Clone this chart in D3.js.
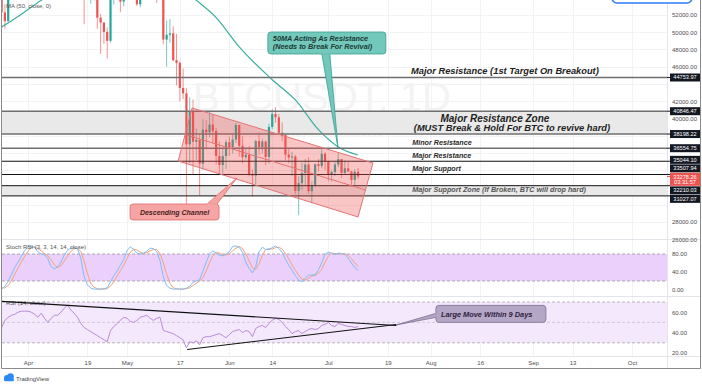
<!DOCTYPE html>
<html>
<head>
<meta charset="utf-8">
<script src="https://cdn.jsdelivr.net/npm/d3@7"></script>
<style>
  body { margin: 0; background: #fff; }
  svg { display: block; font-family: "Liberation Sans", Arial, sans-serif; }
</style>
</head>
<body>
<svg id="chart" width="702" height="384"></svg>
<script>
// ---- data (BTCUSDT daily) ----
var firstDay = "2021-03-24";

var open = [54342,52303,51293,55025,55817,55777,57635,58746,58740,58720,58981,57094,58202,59129,57992,56000,58077,58143,59770,60007,
  59861,63575,62959,63159,61334,60006,56150,55633,56425,53787,51690,51125,50047,49004,54021,55034,54824,53555,57750,57828,
  56610,57213,53241,57473,56428,57380,58928,58280,55859,56704,49150,49716,49880,46761,46450,43538,42909,37002,40782,37304,
  37536,34770,38705,38402,39294,38556,35663,34605,35641,37253,36694,37568,39246,36829,35513,35796,33552,33380,37388,36677,
  37331,35546,39020,40516,40143,38349,38092,35820,35483,35601,31614,32510,33676,34663,31576,32283,34700,34494,35911,35045,
  33502,33786,34668,35288,33690,34220,33863,32875,33815];
var high = [57200,53230,55073,56700,56559,58400,59368,59800,59490,60200,59791,58500,59251,59495,58655,58153,58894,61200,60800,61300,
  63777,64854,63800,63520,62500,60499,57526,57000,56757,55521,52130,51166,50567,54359,55460,56428,55200,58000,58458,57937,
  58981,57213,57911,58360,58650,59500,59300,59500,56900,58000,51367,51520,50700,49800,46643,45800,43546,42451,42200,38856,
  38270,39920,39791,40841,40411,38900,37338,36488,37534,37894,38225,39476,39289,37925,36480,36800,34068,37534,38400,37690,
  37451,39380,41064,41330,40528,39559,38202,36457,36139,35750,33298,34881,35298,35500,32730,34749,35297,36600,36100,35057,
  33977,34945,35967,35293,35118,35059,33929,34100,34262];
var low = [51700,50427,51226,53950,54691,54900,57000,56769,57935,58428,56000,56478,56817,57413,55473,55700,57691,57902,59239,59360,
  59791,61300,62020,60000,59580,50931,54221,53329,53695,50400,47500,48657,46930,48796,53222,53813,52330,53013,57052,56044,
  56435,53046,52900,55200,55250,56975,56235,53400,54370,48600,46000,48805,46650,43825,42001,42250,30000,34850,33488,35200,
  31111,34031,36419,37800,37134,34684,33632,33379,34153,35666,35920,37170,35567,34800,35258,33300,31000,32396,35782,35936,
  34600,34757,38730,39506,38116,37365,35129,34803,33336,31251,28805,31683,32286,31275,30151,32046,33862,34225,34017,32711,
  32699,33316,34357,33125,33532,33777,32077,32261,33004];
var close = [52303,51293,55025,55817,55777,57635,58746,58740,58720,58981,57094,58202,59129,57992,56000,58077,58143,59770,60007,59861,
  63575,62959,63159,61334,60006,56150,55633,56425,53787,51690,51125,50047,49004,54021,55034,54824,53555,57750,57828,56610,
  57213,53241,57473,56428,57380,58928,58280,55859,56704,49150,49716,49880,46761,46450,43538,42909,37002,40782,37304,37536,
  34770,38705,38402,39294,38556,35663,34605,35641,37253,36693,37569,39246,36829,35513,35796,33552,33380,37388,36675,37331,
  35546,39020,40516,40144,38349,38092,35819,35483,35600,31608,32509,33678,34663,31584,32283,34700,34494,35911,35045,33504,
  33786,34669,35287,33690,34220,33862,32875,33815,33278];

var maDays   = ["2021-03-24","2021-03-30","2021-04-05","2021-04-15","2021-05-01","2021-05-12","2021-05-22","2021-05-28",
                "2021-06-04","2021-06-14","2021-06-21","2021-06-28","2021-07-04","2021-07-10"];
var maValues = [50600, 52100, 53700, 56000, 57000, 56500, 53700, 51700, 48300, 44500, 42150, 38700, 36700, 35770];

var stochK = [2,8,20,35,50,62,75,88,96,97, 95,85,80,79,70,52,47,52,62,78, 88,93,94,92,70,30,12,4,2,2,
  2,3,5,18,32,42,55,68,88,96, 90,82,80,82,86,93,92,85,65,30, 10,4,2,2,2,2,4,8,17,20,
  23,42,62,80,87,82,77,76,80,85, 97,98,95,84,62,48,38,52,85,95, 90,90,94,98,92,84,68,55,44,32,
  22,18,26,33,33,34,45,60,80,84, 82,78,82,81,79,71,60,50,44];
var stochD = [5,5,10,21,35,49,62,75,86,94, 96,92,87,81,76,67,56,50,54,64, 76,86,92,93,85,64,37,15,6,3,
  2,2,3,9,18,31,43,55,70,84, 91,89,84,81,83,87,90,90,81,60, 35,15,5,3,2,2,3,5,10,15,
  20,28,42,61,76,83,82,78,78,80, 87,93,97,92,80,65,49,46,58,77, 90,92,91,94,95,91,81,69,56,44,
  33,24,22,26,31,33,37,46,62,75, 82,81,81,80,81,77,70,60,52];
var rsi = [45,52,55,57,58,60,61,61,61,60, 58,55,59,54,50,54,57,57,60,64, 67,62,59,55,49,45,43,41,39,37,
  35,33,31,42,46,49,52,55,54,51, 50,52,55,56,57,54,52,54,55,42, 41,40,39,37,35,33,25,31,30,32,
  28,35,36,36,37,38,39,37,35,38, 41,42,43,40,42,41,36,44,46,47, 45,49,52,54,53,50,46,43,39,41,
  42,39,41,43,44,43,44,47,48,50, 47,46,49,48,47,46,46,45,46];

var timeTicks  = ["2021-04-01","2021-04-19","2021-05-01","2021-05-17","2021-06-01","2021-06-14","2021-07-01",
                  "2021-07-19","2021-08-01","2021-08-16","2021-09-01","2021-09-13","2021-10-01"];
var timeLabels = ["Apr","19","May","17","Jun","14","Jul","19","Aug","16","Sep","13","Oct"];
var priceTicks = [52000,50000,48000,46000,44000,42000,40000,38000,36000,34000,32000,30000,28000,26000];
var stochTicks = [80, 40, 0];
var rsiTicks   = [60, 40, 20];

var grayLevels  = [44753.97, 40846.47, 38198.22, 36554.75];
var blackLevels = [35044.10, 33507.94, 32210.03, 31027.07];
var zones = [[38198.22, 40846.47], [31027.07, 32210.03]];
var lastPrice = 33278.26, countdown = "03:31:57";

// channel corners (date, price)
var channel = [["2021-05-20T17:00:00Z", 41217], ["2021-07-14T12:00:00Z", 34841],
               ["2021-07-10T00:00:00Z", 28580], ["2021-05-16T12:00:00Z", 35072]];
var rsiTop    = [["2021-03-24T02:00:00Z", 70.6], ["2021-07-21T14:00:00Z", 47]];
var rsiBottom = [["2021-05-19T05:00:00Z", 23.5], ["2021-07-21T14:00:00Z", 48]];

// ---- layout ----
var svg = d3.select("#chart");
var left = 2, right = 667;
var mainTop = 0, mainBottom = 239, stochTop = 240, stochBottom = 296, rsiTop0 = 297, rsiBottom0 = 356;

var parseDay = d3.utcParse("%Y-%m-%d");
var t = function(s) { return s.length > 10 ? d3.isoParse(s) : parseDay(s); };

var x = d3.scaleUtc().domain([t("2021-03-24"), t("2021-10-01")]).range([1.6, 632]);
var y = d3.scaleLinear().domain([28000, 52000]).range([222, 15]);
var yS = d3.scaleLinear().domain([0, 100]).range([290, 245]);
var yR = d3.scaleLinear().domain([20, 70]).range([353, 302]);

var days = d3.utcDay.range(t(firstDay), d3.utcDay.offset(t(firstDay), close.length));
var candles = days.map(function(d, i) {
  return { date: d, open: open[i], high: high[i], low: low[i], close: close[i] };
});

var defs = svg.append("defs");
function clip(id, y0, y1) {
  defs.append("clipPath").attr("id", id).append("rect")
    .attr("x", left).attr("y", y0).attr("width", right - left).attr("height", y1 - y0);
}
clip("cMain", mainTop, mainBottom);
clip("cStoch", stochTop, stochBottom);
clip("cRsi", rsiTop0, rsiBottom0);

svg.append("rect").attr("width", 702).attr("height", 384).attr("fill", "#fff");

// grid
var grid = svg.append("g").attr("stroke", "#f1f3f6").attr("stroke-width", 1);
timeTicks.forEach(function(d) {
  var xx = Math.round(x(t(d))) + 0.5;
  grid.append("line").attr("x1", xx).attr("x2", xx).attr("y1", 0).attr("y2", rsiBottom0);
});
priceTicks.forEach(function(p) {
  var yy = Math.round(y(p)) + 0.5;
  grid.append("line").attr("x1", left).attr("x2", right).attr("y1", yy).attr("y2", yy);
});

// ---- main pane ----
var main = svg.append("g").attr("clip-path", "url(#cMain)");

main.append("text").attr("x", 322).attr("y", 111).attr("text-anchor", "middle")
  .attr("font-size", 40).attr("fill", "#f3f3f3").text("BTCUSDT, 1D");
main.append("text").attr("x", 322).attr("y", 137).attr("text-anchor", "middle")
  .attr("font-size", 15).attr("fill", "#f4f4f4").text("Bitcoin / TetherUS");

main.selectAll(".zone").data(zones).enter().append("rect")
  .attr("class", "zone")
  .attr("x", left).attr("width", right - left)
  .attr("y", function(d) { return y(d[1]); })
  .attr("height", function(d) { return y(d[0]) - y(d[1]); })
  .attr("fill", "#e9e9e9");

var isUp = function(d) { return d.close >= d.open; };
var upCol = "#26a69a", downCol = "#ef5350";
var bw = 2.2;

var bars = main.selectAll(".bar").data(candles).enter().append("g").attr("class", "bar")
  .attr("fill", function(d) { return isUp(d) ? upCol : downCol; })
  .attr("stroke", function(d) { return isUp(d) ? upCol : downCol; });
bars.append("line")
  .attr("x1", function(d) { return x(d.date); }).attr("x2", function(d) { return x(d.date); })
  .attr("y1", function(d) { return y(d.high); }).attr("y2", function(d) { return y(d.low); })
  .attr("stroke-width", 0.9).attr("stroke-opacity", 0.7);
bars.append("rect")
  .attr("stroke", "none")
  .attr("x", function(d) { return x(d.date) - bw / 2; })
  .attr("width", bw)
  .attr("y", function(d) { return y(Math.max(d.open, d.close)); })
  .attr("height", function(d) { return Math.max(0.8, Math.abs(y(d.open) - y(d.close))); });

var maLine = d3.line().curve(d3.curveMonotoneX)
  .x(function(d) { return x(t(d[0])); }).y(function(d) { return y(d[1]); });
main.append("path").datum(maDays.map(function(d, i) { return [d, maValues[i]]; }))
  .attr("d", maLine).attr("fill", "none").attr("stroke", "#3bae9f").attr("stroke-width", 1.2);

// level lines
grayLevels.forEach(function(p) {
  main.append("line").attr("x1", left).attr("x2", right).attr("y1", y(p)).attr("y2", y(p))
    .attr("stroke", "#6f6f6f").attr("stroke-width", 1.4);
});
blackLevels.forEach(function(p) {
  main.append("line").attr("x1", left).attr("x2", right).attr("y1", y(p)).attr("y2", y(p))
    .attr("stroke", "#111").attr("stroke-width", 1);
});

// descending channel
var chPts = channel.map(function(c) { return [x(t(c[0])), y(c[1])]; });
main.append("path").attr("d", "M" + chPts.join("L") + "Z")
  .attr("fill", "rgba(239,83,80,0.33)").attr("stroke", "#e57373").attr("stroke-width", 1);
var midA = [(chPts[0][0] + chPts[3][0]) / 2, (chPts[0][1] + chPts[3][1]) / 2];
var midB = [(chPts[1][0] + chPts[2][0]) / 2, (chPts[1][1] + chPts[2][1]) / 2];
main.append("line").attr("x1", midA[0]).attr("y1", midA[1]).attr("x2", midB[0]).attr("y2", midB[1])
  .attr("stroke", "#e57373").attr("stroke-width", 1);

// level texts
var txt = main.append("g").attr("font-weight", "bold").attr("font-style", "italic");
var cx = x(t("2021-08-23T12:00:00Z")), lx = x(t("2021-07-26T10:00:00Z"));
txt.append("text").attr("x", cx).attr("y", y(44753.97) - 3).attr("text-anchor", "middle")
  .attr("font-size", 9.3).attr("fill", "#222").text("Major Resistance (1st Target On Breakout)");
txt.append("text").attr("x", cx - 10).attr("y", y(40846.47) + 10.5).attr("text-anchor", "middle")
  .attr("font-size", 10).attr("fill", "#222").text("Major Resistance Zone");
txt.append("text").attr("x", cx + 7).attr("y", y(40846.47) + 20).attr("text-anchor", "middle")
  .attr("font-size", 9.3).attr("fill", "#222").text("(MUST Break & Hold For BTC to revive hard)");
txt.append("text").attr("x", lx).attr("y", y(36554.75) - 3).attr("font-size", 7.2).attr("fill", "#2a2a2a").text("Minor Resistance");
txt.append("text").attr("x", lx).attr("y", y(35044.10) - 3).attr("font-size", 7.2).attr("fill", "#2a2a2a").text("Major Resistance");
txt.append("text").attr("x", lx).attr("y", y(33507.94) - 3.5).attr("font-size", 7.2).attr("fill", "#2a2a2a").text("Major Support");
txt.append("text").attr("x", lx).attr("y", y(32210.03) + 6.5).attr("font-size", 7.2).attr("fill", "#555").text("Major Support Zone (If Broken, BTC will drop hard)");

main.append("text").attr("x", 6).attr("y", 8).attr("font-size", 6).attr("fill", "#555").text("MA (50, close, 0)");

// callouts
function callout(g, o) {
  var bx = o.bx, by = o.by;
  g.append("path").attr("d", "M" + o.base[0].join(",") + "L" + o.tip.join(",") + "L" + o.base[1].join(",") + "Z")
    .attr("fill", o.fill).attr("stroke", o.stroke).attr("stroke-width", 0.8);
  g.append("rect").attr("x", bx).attr("y", by).attr("width", o.w).attr("height", o.h).attr("rx", 3)
    .attr("fill", o.fill).attr("stroke", o.stroke).attr("stroke-width", 0.8);
  g.append("path").attr("d", "M" + o.base[0].join(",") + "L" + o.base[1].join(","))
    .attr("stroke", o.fill).attr("stroke-width", 1.6);
  o.lines.forEach(function(s, i) {
    g.append("text").attr("x", o.anchor === "middle" ? bx + o.w / 2 : bx + 5)
      .attr("y", by + o.pad + i * 7.8).attr("text-anchor", o.anchor || "start")
      .attr("font-size", o.fs).attr("font-weight", "bold").attr("font-style", "italic")
      .attr("fill", o.color).text(s);
  });
}

var maBoxX = x(t("2021-06-12T16:00:00Z")), maBoxY = y(50030);
callout(main, {
  bx: maBoxX, by: maBoxY, w: 118, h: 22, fill: "#72c8bb", stroke: "#3a9f92", color: "#1d3a35", fs: 7.3, pad: 9.5,
  lines: ["50MA Acting As Resistance", "(Needs to Break For Revival)"],
  base: [[maBoxX + 54, maBoxY + 22], [maBoxX + 62, maBoxY + 22]],
  tip: [x(t("2021-07-03T22:00:00Z")), y(36580)]
});

var dcX = x(t("2021-05-01T22:00:00Z")), dcY = y(30087);
callout(svg, {
  bx: dcX, by: dcY, w: 89, h: 16, fill: "#f6a5a4", stroke: "#e06b6a", color: "#4a2222", fs: 7, pad: 10.8,
  anchor: "middle", lines: ["Descending Channel"],
  base: [[dcX + 77, dcY], [dcX + 87, dcY]],
  tip: [x(t("2021-06-03T07:00:00Z")), y(33101)]
});

// ---- stoch RSI pane ----
var st = svg.append("g").attr("clip-path", "url(#cStoch)");
st.append("rect").attr("x", left).attr("width", right - left)
  .attr("y", yS(80)).attr("height", yS(20) - yS(80)).attr("fill", "#ead0fb");
[80, 20].forEach(function(v) {
  st.append("line").attr("x1", left).attr("x2", right).attr("y1", yS(v)).attr("y2", yS(v))
    .attr("stroke", "#9a9a9a").attr("stroke-width", 0.8).attr("stroke-dasharray", "3,2");
});
var sLine = d3.line().x(function(d, i) { return x(days[i]); }).y(function(d) { return yS(d); });
st.append("path").datum(stochD).attr("d", sLine).attr("fill", "none").attr("stroke", "#f4a27a").attr("stroke-width", 1);
st.append("path").datum(stochK).attr("d", sLine).attr("fill", "none").attr("stroke", "#7fbdf5").attr("stroke-width", 1);
st.append("text").attr("x", 6).attr("y", stochTop + 9).attr("font-size", 6).attr("fill", "#555").text("Stoch RSI (3, 3, 14, 14, close)");

// ---- RSI pane ----
var rp = svg.append("g").attr("clip-path", "url(#cRsi)");
rp.append("rect").attr("x", left).attr("width", right - left)
  .attr("y", yR(70)).attr("height", yR(30) - yR(70)).attr("fill", "#f4e8fd");
[70, 50, 30].forEach(function(v) {
  rp.append("line").attr("x1", left).attr("x2", right).attr("y1", yR(v)).attr("y2", yR(v))
    .attr("stroke", v === 50 ? "#c9c0d0" : "#a8a0ad").attr("stroke-width", 0.8).attr("stroke-dasharray", "3,2");
});
var rLine = d3.line().x(function(d, i) { return x(days[i]); }).y(function(d) { return yR(d); });
rp.append("path").datum(rsi).attr("d", rLine).attr("fill", "none").attr("stroke", "#b98ad6").attr("stroke-width", 1);
rp.append("text").attr("x", 6).attr("y", rsiTop0 + 8).attr("font-size", 6).attr("fill", "#555").text("RSI (14, close)");
[rsiTop, rsiBottom].forEach(function(seg) {
  rp.append("line")
    .attr("x1", x(t(seg[0][0]))).attr("y1", yR(seg[0][1]))
    .attr("x2", x(t(seg[1][0]))).attr("y2", yR(seg[1][1]))
    .attr("stroke", "#111").attr("stroke-width", 1.1);
});
var lmX = x(t("2021-08-02T14:00:00Z")), lmY = yR(66.7);
callout(rp, {
  bx: lmX, by: lmY, w: 110, h: 17, fill: "#b4a6c5", stroke: "#7e6f92", color: "#2e2340", fs: 7.4, pad: 11.2,
  lines: ["Large Move Within 9 Days"],
  base: [[lmX, lmY + 8], [lmX, lmY + 12]],
  tip: [x(t(rsiTop[1][0])), yR(47.5)]
});

// ---- borders ----
var b = svg.append("g").attr("fill", "none");
b.append("line").attr("x1", left).attr("x2", 700).attr("y1", mainBottom + 0.5).attr("y2", mainBottom + 0.5).attr("stroke", "#e3e5ea");
b.append("line").attr("x1", left).attr("x2", 700).attr("y1", stochBottom + 0.5).attr("y2", stochBottom + 0.5).attr("stroke", "#e3e5ea");
b.append("line").attr("x1", left).attr("x2", 700).attr("y1", rsiBottom0 + 0.5).attr("y2", rsiBottom0 + 0.5).attr("stroke", "#e3e5ea");
b.append("line").attr("x1", right + 0.5).attr("x2", right + 0.5).attr("y1", 0).attr("y2", 368).attr("stroke", "#e3e5ea");
b.append("line").attr("x1", 1.5).attr("x2", 1.5).attr("y1", 0).attr("y2", 368.5).attr("stroke", "#8a8a8a");
b.append("line").attr("x1", 700.5).attr("x2", 700.5).attr("y1", 0).attr("y2", 368.5).attr("stroke", "#8a8a8a");
b.append("line").attr("x1", 1.5).attr("x2", 700.5).attr("y1", 368.5).attr("y2", 368.5).attr("stroke", "#8a8a8a");

// price labels on the axis, pushed apart when they overlap
var labels = grayLevels.concat(blackLevels).map(function(p) {
  return { price: p, y: y(p), h: 8, fill: "#131722", lines: [d3.format(".2f")(p)] };
});
labels.push({ price: lastPrice, y: y(lastPrice) + 3, h: 13, fill: "#ef5350", lines: [d3.format(".2f")(lastPrice), countdown] });
labels.sort(function(a, b) { return a.y - b.y; });
for (var k = 0; k < 40; k++) {
  for (var i = 1; i < labels.length; i++) {
    var a = labels[i - 1], c = labels[i], need = (a.h + c.h) / 2 + 0.5, gap = c.y - a.y;
    if (gap < need) { a.y -= (need - gap) / 2; c.y += (need - gap) / 2; }
  }
}

// ---- axes ----
function styleAxis(g) {
  g.select(".domain").remove();
  g.selectAll("text").attr("font-size", 6).attr("fill", "#4d4d4d").attr("font-family", "Liberation Sans, Arial, sans-serif");
}
// axis ticks hidden behind a level label are dropped, as TradingView does
var shownTicks = priceTicks.filter(function(p) {
  return labels.every(function(l) { return Math.abs(y(p) - l.y) > l.h / 2 + 3.2; });
});
svg.append("g").attr("transform", "translate(669,0)")
  .call(d3.axisRight(y).tickValues(shownTicks).tickSize(0).tickPadding(3).tickFormat(d3.format(".2f")))
  .call(styleAxis);
svg.append("g").attr("transform", "translate(669,0)")
  .call(d3.axisRight(yS).tickValues(stochTicks).tickSize(0).tickPadding(3).tickFormat(d3.format(".2f")))
  .call(styleAxis);
svg.append("g").attr("transform", "translate(669,0)")
  .call(d3.axisRight(yR).tickValues(rsiTicks).tickSize(0).tickPadding(3).tickFormat(d3.format(".2f")))
  .call(styleAxis);
svg.append("g").attr("transform", "translate(0," + (rsiBottom0 + 1) + ")")
  .call(d3.axisBottom(x).tickValues(timeTicks.map(t)).tickSize(0).tickPadding(4)
    .tickFormat(function(d, i) { return timeLabels[i]; }))
  .call(styleAxis);

var lg = svg.append("g");
labels.forEach(function(l) {
  var g = lg.append("g");
  g.append("line").attr("x1", right).attr("x2", 670).attr("y1", y(l.price)).attr("y2", y(l.price))
    .attr("stroke", l.fill).attr("stroke-width", 1);
  g.append("rect").attr("x", 670).attr("y", l.y - l.h / 2).attr("width", 30).attr("height", l.h).attr("fill", l.fill);
  l.lines.forEach(function(s, j) {
    g.append("text").attr("x", 685).attr("y", l.y - l.h / 2 + 6 + j * 5.5).attr("text-anchor", "middle")
      .attr("font-size", 5.6).attr("fill", "#fff").text(s);
  });
});

// top-right button edge
svg.append("rect").attr("x", 612).attr("y", -14).attr("width", 80).attr("height", 17).attr("rx", 5)
  .attr("fill", "#fff").attr("stroke", "#2f7bf5").attr("stroke-width", 1.6);

// TradingView mark
var logo = svg.append("g").attr("fill", "#2a8af6");
logo.append("circle").attr("cx", 7).attr("cy", 378).attr("r", 3);
logo.append("circle").attr("cx", 10.5).attr("cy", 376.5).attr("r", 3.3);
logo.append("rect").attr("x", 4).attr("y", 378).attr("width", 10).attr("height", 3.3).attr("rx", 1.5);
svg.append("text").attr("x", 16).attr("y", 380.5).attr("font-size", 6).attr("fill", "#444").text("TradingView");
</script>
</body>
</html>
